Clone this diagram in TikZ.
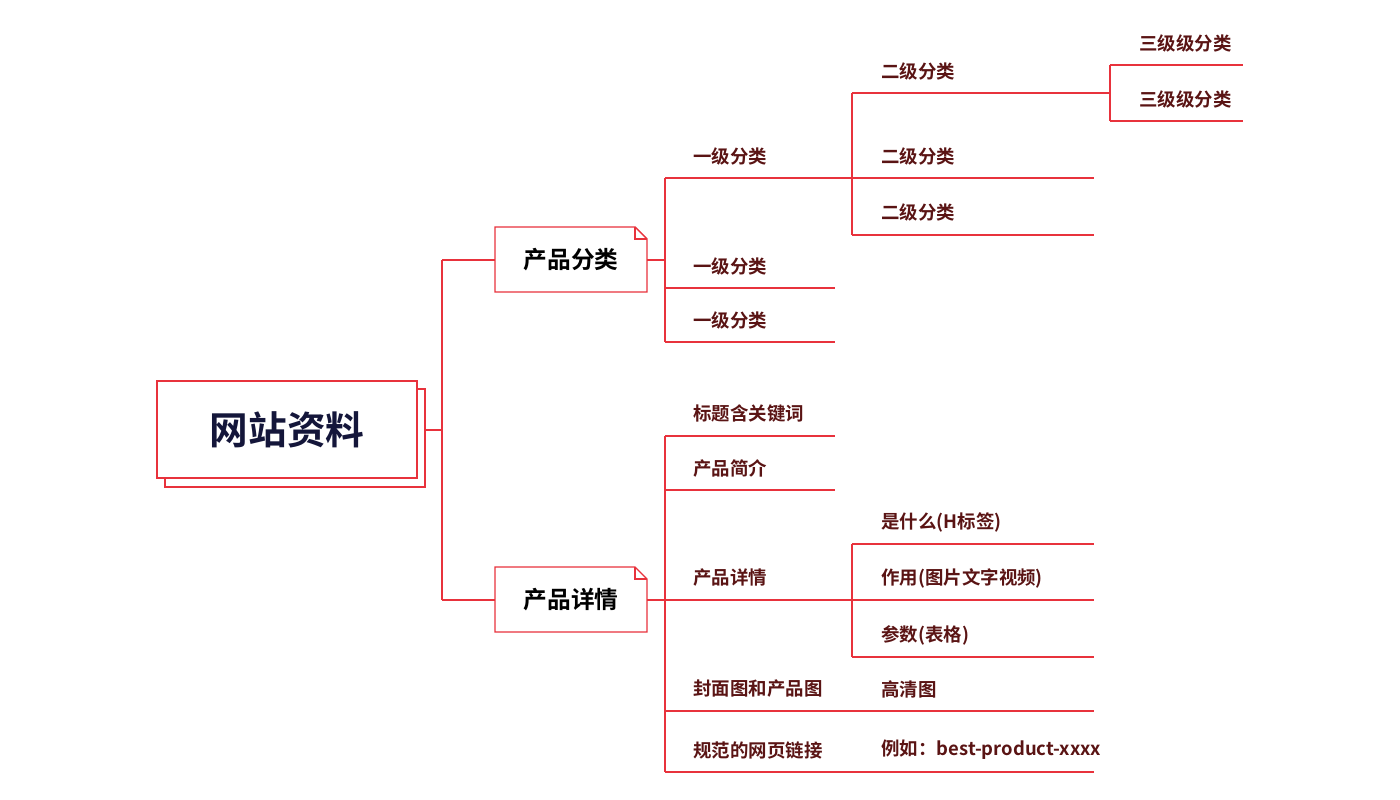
\documentclass[tikz,border=0pt]{standalone}
\usepackage{fontspec}
\newfontfamily\cjk{Noto Sans CJK SC}[BoldFont={Noto Sans CJK SC Bold}]
\definecolor{linered}{HTML}{E8323C}
\definecolor{txtred}{HTML}{5A1414}
\definecolor{rootblue}{HTML}{14163A}
\begin{document}
\begin{tikzpicture}
[x=0.02cm,y=-0.02cm,
wire/.style={draw=linered,line width=0.8pt},
leaf/.style={anchor=west,inner sep=0pt,text=txtred,font=\cjk\fontsize{10.5}{12}\selectfont\bfseries},
branch/.style={inner sep=0pt,text=black,font=\cjk\fontsize{13.5}{15}\selectfont\bfseries}]
\useasboundingbox (0,0) rectangle (1400,800);
%root
	\draw[wire,fill=white] (165,389) rectangle (425,487);
	\draw[wire,fill=white] (157,381) rectangle (417,478);
	\node[branch,text=rootblue,font=\cjk\fontsize{22}{24}\selectfont\bfseries] (root) at (287,430) {网站资料};
	\coordinate (rootout) at (425,430);
	\coordinate (rootfork) at (442,430);
%level 1 boxes
\foreach \n / \y / \t in {fenlei/260/产品分类,xiangqing/600/产品详情}
{
	\draw[wire,fill=white] (495,\y-33) -- (635,\y-33) -- (647,\y-21) -- (647,\y+32) -- (495,\y+32) -- cycle;
	\draw[wire] (635,\y-33) -- (635,\y-21) -- (647,\y-21);
	\node[branch] (\n) at (571,\y) {\t};
}
	\draw[wire] (rootout) -- (rootfork) (442,260) -- (442,600);
	\draw[wire] (442,260) -- (495,260) (442,600) -- (495,600);
%产品分类
	\draw[wire] (647,260) -- (665,260) (665,178) -- (665,342);
\foreach \y / \e in {178/852,288/835,342/835}
	\draw[wire] (665,\y) -- (\e,\y);
	\node[leaf] (yj1) at (693,156) {一级分类};
	\node[leaf] (yj2) at (693,266) {一级分类};
	\node[leaf] (yj3) at (693,320) {一级分类};
	\draw[wire] (852,93) -- (852,235);
\foreach \y / \e in {93/1110,178/1094,235/1094}
	\draw[wire] (852,\y) -- (\e,\y);
	\node[leaf] (ej1) at (881,71) {二级分类};
	\node[leaf] (ej2) at (881,156) {二级分类};
	\node[leaf] (ej3) at (881,212) {二级分类};
	\draw[wire] (1110,65) -- (1110,121);
\foreach \y in {65,121}
	\draw[wire] (1110,\y) -- (1243,\y);
	\node[leaf] (sj1) at (1139,43) {三级级分类};
	\node[leaf] (sj2) at (1139,99) {三级级分类};
%产品详情
	\draw[wire] (647,600) -- (665,600) (665,436) -- (665,772);
\foreach \y / \e in {436/835,490/835,600/852,711/1094,772/1094}
	\draw[wire] (665,\y) -- (\e,\y);
	\node[leaf] (bt) at (693,414) {标题含关键词};
	\node[leaf] (jj) at (693,468) {产品简介};
	\node[leaf] (xq) at (693,578) {产品详情};
	\node[leaf] (fm) at (693,689) {封面图和产品图};
	\node[leaf] (gf) at (693,750) {规范的网页链接};
	\draw[wire] (852,544) -- (852,657);
\foreach \y in {544,600,657}
	\draw[wire] (852,\y) -- (1094,\y);
	\node[leaf] (sm) at (881,522) {是什么(H标签)};
	\node[leaf] (zy) at (881,578) {作用(图片文字视频)};
	\node[leaf] (cs) at (881,635) {参数(表格)};
	\node[leaf] (gq) at (881,689) {高清图};
	\node[leaf] (lr) at (881,750) {例如：best-product-xxxx};
\end{tikzpicture}
\end{document}
